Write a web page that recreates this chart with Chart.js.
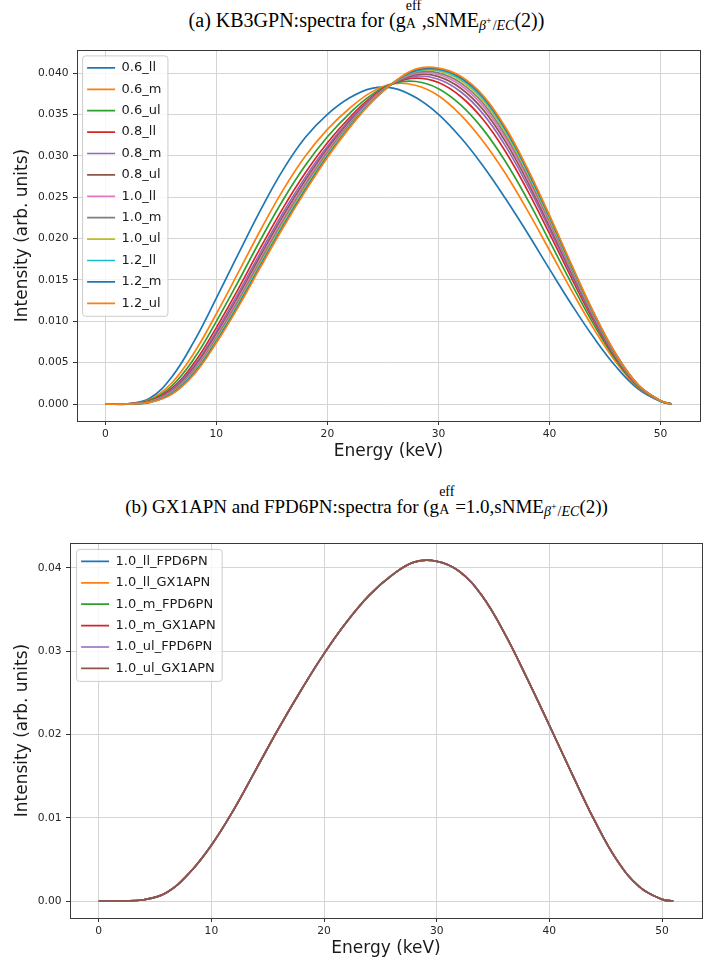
<!DOCTYPE html>
<html>
<head>
<meta charset="utf-8">
<script src="https://cdn.jsdelivr.net/npm/chart.js@4.4.1/dist/chart.umd.min.js"></script>
<style>
  body { margin: 0; background: #fff; width: 713px; height: 963px; position: relative; overflow: hidden; }
  .cap { position: absolute; left: 10px; width: 713px; text-align: center; white-space: nowrap;
         font-family: "Liberation Serif", "DejaVu Serif", serif; font-size: 20px; line-height: 24px; color: #000; }
  .ss { display: inline-block; position: relative; width: 16px; height: 0; }
  .ss span { position: absolute; left: 0; font-size: 14px; line-height: 14px; }
  .ss .up { bottom: 14px; }
  .ss .dn { bottom: -3.5px; }
  .sb { font-size: 14px; position: relative; top: 3px; }
  .pl { font-size: 10px; position: relative; top: -6px; margin-right: 1px; }
  .wrap { position: absolute; left: 0; }
</style>
</head>
<body>
<div class="cap" style="top:8px">(a) KB3GPN:spectra for (g<span class="ss"><span class="up">eff</span><span class="dn">A</span></span>,sNME<span class="sb"><i>β</i><span class="pl">+</span>/<i>EC</i></span>(2))</div>
<div class="wrap" style="top:30px"><canvas id="chartA" width="713" height="432"></canvas></div>
<div class="cap" style="top:495px; font-size:19px">(b) GX1APN and FPD6PN:spectra for (g<span class="ss"><span class="up">eff</span><span class="dn">A</span></span>=1.0,sNME<span class="sb"><i>β</i><span class="pl">+</span>/<i>EC</i></span>(2))</div>
<div class="wrap" style="top:525px"><canvas id="chartB" width="713" height="434"></canvas></div>
<script>
// energy grid (keV) shared by every curve
const energy = [0, 2, 4, 6, 8, 10, 12, 14, 16, 18, 20, 22, 24, 26, 28, 30, 32, 34, 36, 38, 40, 42, 44, 46, 48, 50, 51];

// (a) KB3GPN spectra
const kbLabels = ["0.6_ll", "0.6_m", "0.6_ul", "0.8_ll", "0.8_m", "0.8_ul", "1.0_ll", "1.0_m", "1.0_ul", "1.2_ll", "1.2_m", "1.2_ul"];
const kb06ll = [0, 0.00003, 0.00070, 0.00330, 0.00760, 0.01280, 0.01820, 0.02350, 0.02830, 0.03220, 0.03500, 0.03700, 0.03815, 0.03815, 0.03700, 0.03500, 0.03220, 0.02880, 0.02490, 0.02070, 0.01630, 0.01200, 0.00800, 0.00450, 0.00180, 0.00030, 0];
const kb06m = [0, 0.00002, 0.00053, 0.00257, 0.00620, 0.01091, 0.01596, 0.02109, 0.02585, 0.02993, 0.03318, 0.03574, 0.03772, 0.03871, 0.03849, 0.03726, 0.03494, 0.03178, 0.02791, 0.02343, 0.01858, 0.01368, 0.00905, 0.00503, 0.00198, 0.00034, 0];
const kb06ul = [0, 0.00002, 0.00044, 0.00221, 0.00552, 0.00999, 0.01487, 0.01991, 0.02466, 0.02882, 0.03230, 0.03513, 0.03739, 0.03874, 0.03897, 0.03811, 0.03615, 0.03322, 0.02937, 0.02476, 0.01968, 0.01450, 0.00956, 0.00528, 0.00206, 0.00035, 0];
const kb08ll = [0, 0.00002, 0.00037, 0.00191, 0.00496, 0.00924, 0.01398, 0.01895, 0.02368, 0.02791, 0.03157, 0.03462, 0.03714, 0.03880, 0.03939, 0.03885, 0.03716, 0.03441, 0.03058, 0.02585, 0.02059, 0.01517, 0.00998, 0.00549, 0.00213, 0.00037, 0];
const kb08m = [0, 0.00002, 0.00033, 0.00175, 0.00464, 0.00880, 0.01346, 0.01839, 0.02312, 0.02739, 0.03115, 0.03434, 0.03698, 0.03881, 0.03962, 0.03924, 0.03773, 0.03509, 0.03126, 0.02647, 0.02111, 0.01555, 0.01022, 0.00561, 0.00217, 0.00037, 0];
const kb08ul = [0, 0.00001, 0.00030, 0.00162, 0.00440, 0.00848, 0.01308, 0.01798, 0.02270, 0.02700, 0.03084, 0.03412, 0.03687, 0.03883, 0.03980, 0.03956, 0.03816, 0.03560, 0.03178, 0.02694, 0.02150, 0.01584, 0.01040, 0.00570, 0.00220, 0.00038, 0];
const kb10ll = [0, 0.00001, 0.00028, 0.00152, 0.00420, 0.00821, 0.01276, 0.01764, 0.02235, 0.02668, 0.03058, 0.03394, 0.03678, 0.03885, 0.03995, 0.03982, 0.03852, 0.03603, 0.03221, 0.02733, 0.02183, 0.01608, 0.01055, 0.00578, 0.00223, 0.00039, 0];
const kb10m = [0, 0.00001, 0.00026, 0.00143, 0.00404, 0.00799, 0.01250, 0.01736, 0.02207, 0.02642, 0.03037, 0.03380, 0.03670, 0.03886, 0.04007, 0.04002, 0.03881, 0.03637, 0.03255, 0.02764, 0.02209, 0.01627, 0.01067, 0.00584, 0.00225, 0.00039, 0];
const kb10ul = [0, 0.00001, 0.00024, 0.00135, 0.00388, 0.00778, 0.01225, 0.01708, 0.02179, 0.02616, 0.03016, 0.03365, 0.03663, 0.03888, 0.04019, 0.04024, 0.03910, 0.03671, 0.03290, 0.02795, 0.02235, 0.01646, 0.01079, 0.00590, 0.00227, 0.00039, 0];
const kb12ll = [0, 0.00001, 0.00022, 0.00128, 0.00376, 0.00762, 0.01206, 0.01688, 0.02158, 0.02596, 0.03001, 0.03354, 0.03657, 0.03887, 0.04026, 0.04038, 0.03930, 0.03696, 0.03316, 0.02819, 0.02254, 0.01661, 0.01088, 0.00594, 0.00228, 0.00040, 0];
const kb12m = [0, 0.00001, 0.00021, 0.00124, 0.00368, 0.00751, 0.01193, 0.01674, 0.02144, 0.02583, 0.02990, 0.03347, 0.03653, 0.03889, 0.04033, 0.04049, 0.03945, 0.03713, 0.03333, 0.02834, 0.02267, 0.01670, 0.01094, 0.00597, 0.00229, 0.00040, 0];
const kb12ul = [0, 0.00001, 0.00020, 0.00120, 0.00360, 0.00740, 0.01180, 0.01660, 0.02130, 0.02570, 0.02980, 0.03340, 0.03650, 0.03890, 0.04050, 0.04060, 0.03960, 0.03730, 0.03350, 0.02850, 0.02280, 0.01680, 0.01100, 0.00600, 0.00230, 0.00040, 0];
const kbSeries = [kb06ll, kb06m, kb06ul, kb08ll, kb08m, kb08ul, kb10ll, kb10m, kb10ul, kb12ll, kb12m, kb12ul];

// (b) GX1APN and FPD6PN spectra at gA = 1.0 (they lie on top of each other)
const pnLabels = ["1.0_ll_FPD6PN", "1.0_ll_GX1APN", "1.0_m_FPD6PN", "1.0_m_GX1APN", "1.0_ul_FPD6PN", "1.0_ul_GX1APN"];
const llFPD = [0, 0.00001, 0.00015, 0.00100, 0.00330, 0.00670, 0.01100, 0.01590, 0.02080, 0.02540, 0.02970, 0.03350, 0.03670, 0.03910, 0.04070, 0.04080, 0.03960, 0.03670, 0.03220, 0.02680, 0.02110, 0.01530, 0.00970, 0.00490, 0.00170, 0.00020, 0];
const llGX1 = [0, 0.00001, 0.00015, 0.00100, 0.00330, 0.00671, 0.01101, 0.01591, 0.02081, 0.02541, 0.02971, 0.03351, 0.03671, 0.03911, 0.04071, 0.04081, 0.03961, 0.03671, 0.03221, 0.02681, 0.02111, 0.01531, 0.00971, 0.00491, 0.00170, 0.00020, 0];
const mFPD = [0, 0.00001, 0.00015, 0.00100, 0.00330, 0.00670, 0.01100, 0.01590, 0.02080, 0.02540, 0.02970, 0.03350, 0.03670, 0.03910, 0.04070, 0.04080, 0.03960, 0.03670, 0.03220, 0.02680, 0.02110, 0.01530, 0.00970, 0.00490, 0.00170, 0.00020, 0];
const mGX1 = [0, 0.00001, 0.00015, 0.00100, 0.00330, 0.00671, 0.01101, 0.01591, 0.02081, 0.02541, 0.02971, 0.03351, 0.03671, 0.03911, 0.04071, 0.04081, 0.03961, 0.03671, 0.03221, 0.02681, 0.02111, 0.01531, 0.00971, 0.00491, 0.00170, 0.00020, 0];
const ulFPD = [0, 0.00001, 0.00015, 0.00100, 0.00330, 0.00670, 0.01100, 0.01590, 0.02080, 0.02540, 0.02970, 0.03350, 0.03670, 0.03910, 0.04070, 0.04080, 0.03960, 0.03670, 0.03220, 0.02680, 0.02110, 0.01530, 0.00970, 0.00490, 0.00170, 0.00020, 0];
const ulGX1 = [0, 0.00001, 0.00015, 0.00100, 0.00330, 0.00671, 0.01101, 0.01591, 0.02081, 0.02541, 0.02971, 0.03351, 0.03671, 0.03911, 0.04071, 0.04081, 0.03961, 0.03671, 0.03221, 0.02681, 0.02111, 0.01531, 0.00971, 0.00491, 0.00170, 0.00020, 0];
const pnSeries = [llFPD, llGX1, mFPD, mGX1, ulFPD, ulGX1];

// tick values
const xTicks = [0, 10, 20, 30, 40, 50];
const yTicksA = [0, 0.005, 0.01, 0.015, 0.02, 0.025, 0.03, 0.035, 0.04];
const yTicksB = [0, 0.01, 0.02, 0.03, 0.04];

// matplotlib tab10 cycle
const colors = ["#1f77b4", "#ff7f0e", "#2ca02c", "#d62728", "#9467bd", "#8c564b", "#e377c2", "#7f7f7f", "#bcbd22", "#17becf"];

Chart.defaults.font.family = "'DejaVu Sans', sans-serif";
Chart.defaults.color = "#262626";

function buildDatasets(labels, series) {
    return series.map(function (vals, i) {
        const c = colors[i % colors.length];
        return {
            label: labels[i],
            data: energy.map(function (e, j) { return { x: e, y: vals[j] }; }),
            borderColor: c,
            backgroundColor: c,
            borderWidth: 1.7,
            pointRadius: 0,
            fill: false,
            tension: 0.4,
            order: series.length - i, // later series on top, like matplotlib
        };
    });
}

// legend frame (drawn just before the legend) and the axes box
function drawLegendFrame(chart) {
    const hb = chart.legend.legendHitBoxes;
    if (!hb || !hb.length) return;
    const ctx = chart.ctx;
    const first = hb[0], last = hb[hb.length - 1];
    const x0 = first.left - 5;
    const y0 = first.top + first.height / 2 - 12.5;
    const x1 = Math.max.apply(null, hb.map(function (h) { return h.left + h.width; })) + 6;
    const y1 = last.top + last.height / 2 + 12.5;
    ctx.save();
    ctx.beginPath();
    ctx.roundRect(x0 + 0.5, y0 + 0.5, x1 - x0, y1 - y0, 3);
    ctx.fillStyle = "rgba(255,255,255,0.8)";
    ctx.fill();
    ctx.strokeStyle = "#cccccc";
    ctx.lineWidth = 1;
    ctx.stroke();
    ctx.restore();
}

const framePlugin = {
    id: "frame",
    afterLayout(chart, args, opts) {
        const lg = chart.legend, ca = chart.chartArea;
        lg.left = ca.left + opts.dx;
        lg.top = ca.top + opts.dy;
        lg.right = lg.left + lg.width;
        lg.bottom = lg.top + lg.height;
        if (!lg._framed) {
            const orig = lg.draw.bind(lg);
            lg.draw = function (area) { drawLegendFrame(chart); orig(area); };
            lg._framed = true;
        }
    },
    afterDatasetsDraw(chart) {
        const ca = chart.chartArea, ctx = chart.ctx;
        ctx.save();
        ctx.strokeStyle = "#3a3a3a";
        ctx.lineWidth = 1;
        ctx.strokeRect(Math.round(ca.left) + 0.5, Math.round(ca.top) + 0.5,
            Math.round(ca.right - ca.left), Math.round(ca.bottom - ca.top));
        ctx.restore();
    },
};

function makeChart(id, labels, series, o) {
    new Chart(document.getElementById(id), {
        type: "line",
        data: { datasets: buildDatasets(labels, series) },
        options: {
            responsive: false,
            animation: false,
            devicePixelRatio: 1,
            events: [],
            layout: { padding: o.pad },
            scales: {
                x: {
                    type: "linear",
                    min: -2.55,
                    max: 53.55,
                    afterBuildTicks: function (s) { s.ticks = xTicks.map(function (v) { return { value: v }; }); },
                    afterFit: function (s) { s.height = o.xHeight; },
                    ticks: { font: { size: 10.7 }, padding: 3, maxRotation: 0, autoSkip: false },
                    grid: { color: "#d4d4d4", tickColor: "#333", tickLength: 4, z: -1 },
                    border: { display: false },
                    title: { display: true, text: "Energy (keV)", font: { size: 17 }, padding: 0, color: "#1a1a1a" },
                },
                y: {
                    min: o.yMin,
                    max: o.yMax,
                    afterBuildTicks: function (s) { s.ticks = o.yTicks.map(function (v) { return { value: v }; }); },
                    afterFit: function (s) { s.width = o.yWidth; },
                    ticks: {
                        font: { size: 10.7 },
                        padding: 4.5,
                        callback: function (v) { return Number(v).toFixed(o.digits); },
                    },
                    grid: { color: "#d4d4d4", tickColor: "#333", tickLength: 4, z: -1 },
                    border: { display: false },
                    title: { display: true, text: "Intensity (arb. units)", font: { size: 17 }, padding: 0, color: "#1a1a1a" },
                },
            },
            plugins: {
                frame: { dx: o.legendDx, dy: o.legendDy },
                legend: {
                    position: "chartArea",
                    align: "start",
                    labels: {
                        boxWidth: 28,
                        boxHeight: 1.7,
                        padding: 8.4,
                        color: "#1a1a1a",
                        font: { size: 13 },
                        sort: function (a, b) { return a.datasetIndex - b.datasetIndex; },
                        generateLabels: function (chart) {
                            const items = Chart.defaults.plugins.legend.labels.generateLabels(chart);
                            items.forEach(function (it) { it.lineWidth = 0; });
                            return items;
                        },
                    },
                },
                tooltip: { enabled: false },
            },
        },
        plugins: [framePlugin],
    });
}

makeChart("chartA", kbLabels, kbSeries, {
    pad: { top: 20, left: 12, right: 13, bottom: 0 },
    xHeight: 41, yWidth: 65,
    yMin: -0.00205, yMax: 0.04278, yTicks: yTicksA, digits: 3,
    legendDx: 1.7, legendDy: 3,
});

makeChart("chartB", pnLabels, pnSeries, {
    pad: { top: 18, left: 12, right: 11, bottom: 0 },
    xHeight: 41, yWidth: 58,
    yMin: -0.00204, yMax: 0.04300, yTicks: yTicksB, digits: 2,
    legendDx: 2.7, legendDy: 3.5,
});
</script>
</body>
</html>
